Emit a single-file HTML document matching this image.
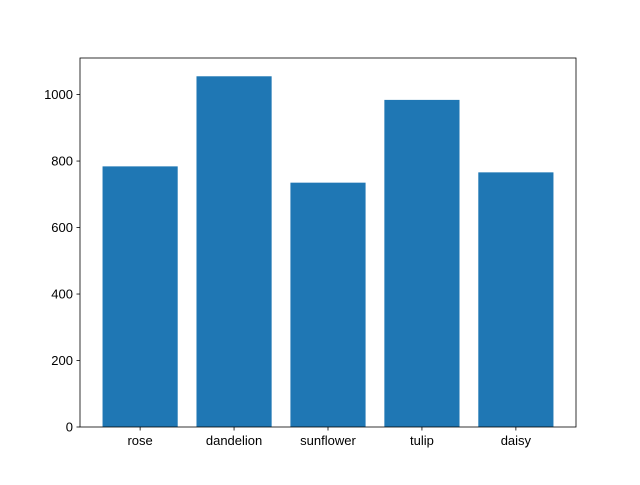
<!DOCTYPE html>
<html><head><meta charset="utf-8"><style>
html,body{margin:0;padding:0;background:#fff;}
svg text{font-family:"Liberation Sans","DejaVu Sans",sans-serif;font-size:13px;fill:#000;}
</style></head><body>
<svg id="chart" width="640" height="480" xmlns="http://www.w3.org/2000/svg">
<rect width="640" height="480" fill="#fff"/>
<g id="bars"></g>
<g id="axes"></g>
</svg>
<script>
const categories = ["rose","dandelion","sunflower","tulip","daisy"];
const values = [784, 1055, 735, 984, 766];
const yTicks = [0,200,400,600,800,1000];

const L=80,R=576,T=58,B=427;
const xMin=-0.64,xMax=4.64,yMax=1110;
const xS=v=>L+(v-xMin)/(xMax-xMin)*(R-L);
const yS=v=>B-v/yMax*(B-T);
const ns="http://www.w3.org/2000/svg";
const bars=document.getElementById('bars');
const axes=document.getElementById('axes');
function mk(tag,attrs,parent){const e=document.createElementNS(ns,tag);for(const k in attrs)e.setAttribute(k,attrs[k]);parent.appendChild(e);return e;}

categories.forEach((c,i)=>{
  const x0=xS(i-0.4),x1=xS(i+0.4);
  const r=mk('rect',{x:x0,y:yS(values[i]),width:x1-x0,height:B-yS(values[i]),fill:'#1f77b4'},bars);
  
  
  const t=mk('line',{x1:xS(i),x2:xS(i),y1:B,y2:B+3.5,stroke:'#000','stroke-width':0.8},axes);
  
  
  const lb=mk('text',{x:xS(i),y:B+18,'text-anchor':'middle'},axes);
  lb.textContent=c;
  
  
});
yTicks.forEach(v=>{
  const y=yS(v);
  const t=mk('line',{x1:L-3.5,x2:L,y1:y,y2:y,stroke:'#000','stroke-width':0.8},axes);
  
  
  const lb=mk('text',{x:L-7,y:y+4.5,'text-anchor':'end'},axes);
  lb.textContent=v;
  
  
});
const frame=mk('rect',{x:L,y:T,width:R-L,height:B-T,fill:'none',stroke:'#000','stroke-width':0.8},axes);


</script>
</body></html>
